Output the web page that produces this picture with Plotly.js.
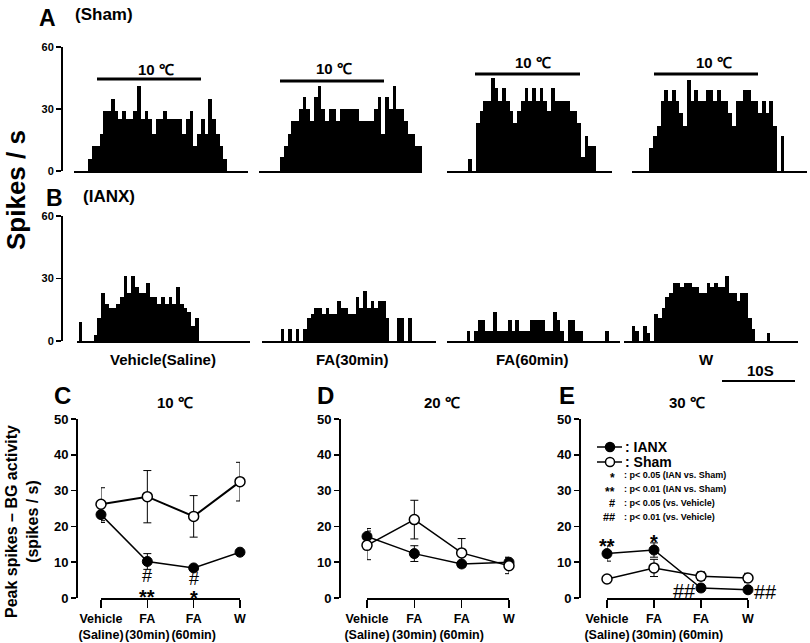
<!DOCTYPE html>
<html>
<head>
<meta charset="utf-8">
<script src="https://cdn.plot.ly/plotly-3.0.1.min.js"></script>
<style>body{margin:0;background:#fff}#chart{width:810px;height:643px}</style>
</head>
<body>
<div id="chart"></div>
<script>
// spikes / s per 0.5 s bin
// row A : sham
var shamVehicle = [6,12,12,18,29,29,35,29,25,29,25,25,29,41,25,29,25,18,25,25,29,25,25,25,25,18,25,29,12,18,25,18,35,25,18,12,6];
var shamFA30 = [7,12,18,24,24,30,36,30,24,36,41,30,24,30,30,24,30,30,30,30,30,24,24,24,24,30,36,18,36,30,41,30,30,24,18,18,12,12];
var shamFA60 = [6,0,23,29,34,34,45,40,34,40,34,29,23,29,34,40,34,40,34,40,34,29,40,34,34,34,34,29,29,23,7,17,12,12];
var shamW = [11,17,22,34,39,34,39,34,28,22,44,34,39,34,34,39,39,34,39,34,34,28,22,34,34,39,39,34,34,28,34,28,34,22,0,17];
// row B : IANX
var ianxVehicle = [9,0,0,0,3,11,23,18,16,16,18,21,31,23,31,26,23,23,28,21,21,18,21,18,21,18,26,18,16,14,7,11];
var ianxFA30 = [6,0,6,0,6,0,6,11,13,16,16,13,16,13,13,19,16,16,13,13,21,16,24,16,19,16,19,19,11,0,0,11,11,0,11];
var ianxFA60 = [5,0,5,10,10,5,5,14,5,5,5,10,5,10,5,5,5,10,10,10,10,5,5,14,10,5,0,10,10,5,5,0,0,0,0,0,0,5];
var ianxW = [7,5,0,7,4,0,13,11,16,21,23,28,28,26,28,28,26,26,23,23,28,26,28,26,26,31,23,23,19,23,23,11,6,0,0,0,4];

var histLabels = ['Vehicle(Saline)', 'FA(30min)', 'FA(60min)', 'W'];
var conditions = ['Vehicle<br>(Saline)', 'FA<br>(30min)', 'FA<br>(60min)', 'W'];

// peak spikes - BG activity (mean, s.e.m.)
var c10Ianx = [23.3, 10.2, 8.4, 12.8];
var c10IanxErr = [2.2, 2.2, 0.5, 0.5];
var c10Sham = [26.2, 28.3, 22.8, 32.5];
var c10ShamErr = [4.6, 7.3, 5.8, 5.4];
var c20Ianx = [17.2, 12.4, 9.5, 10.0];
var c20IanxErr = [2.2, 2.2, 0.6, 1.4];
var c20Sham = [14.7, 21.9, 12.6, 9.0];
var c20ShamErr = [4.0, 5.4, 4.0, 2.2];
var c30Ianx = [12.4, 13.4, 2.8, 2.3];
var c30IanxErr = [2.1, 2.0, 1.0, 0.6];
var c30Sham = [5.3, 8.4, 6.1, 5.6];
var c30ShamErr = [1.0, 2.4, 1.2, 1.3];

var W = 810, H = 643;
var FONT = 'Liberation Sans, Arial, sans-serif';
function px(v) { return v / W; }
function py(v) { return 1 - v / H; }

var data = [];
var layout = {
  width: W, height: H,
  margin: {l: 0, r: 0, t: 0, b: 0},
  paper_bgcolor: '#fff', plot_bgcolor: 'rgba(0,0,0,0)',
  bargap: 0,
  font: {family: FONT, color: '#000'},
  showlegend: false,
  annotations: [],
  shapes: []
};

// histograms
var histData = [shamVehicle, shamFA30, shamFA60, shamW, ianxVehicle, ianxFA30, ianxFA60, ianxW];
// axis left, axis right, left edge of first bar (px)
var histPos = [[74, 248, 88.3], [259, 422, 280], [447, 612, 468.3], [632, 807, 649.3],
               [77, 250, 78.7], [262, 436, 280.7], [447, 620, 466.7], [624, 798, 631.7]];
var binPx = 3.75;

var histY = {
  anchor: 'free', position: px(61), range: [0, 60], tickvals: [0, 30, 60],
  ticks: 'outside', ticklen: 5, tickwidth: 1.5, tickcolor: '#000',
  showline: true, linewidth: 1.5, linecolor: '#000', showgrid: false, zeroline: false,
  tickfont: {size: 11, weight: 'bold'}
};
layout.yaxis = Object.assign({domain: [py(171), py(47)]}, histY);
layout.yaxis2 = Object.assign({domain: [py(341), py(216)]}, histY);

histData.forEach(function (vals, k) {
  var n = k + 1;
  var suffix = n === 1 ? '' : String(n);
  var row = k < 4 ? 'y' : 'y2';
  var p = histPos[k];
  var lo = -0.5 - (p[2] - p[0]) / binPx;
  layout['xaxis' + suffix] = {
    domain: [px(p[0]), px(p[1])], range: [lo, lo + (p[1] - p[0]) / binPx], anchor: row,
    showline: true, linecolor: '#000', linewidth: 1.5, showticklabels: false, ticks: '',
    showgrid: false, zeroline: false
  };
  data.push({
    type: 'bar', x: vals.map(function (v, i) { return i; }), y: vals,
    xaxis: 'x' + suffix, yaxis: row, width: 1,
    marker: {color: '#000', line: {width: 0}}, hoverinfo: 'skip'
  });
});

// line charts C, D, E
var panels = [
  {ianx: c10Ianx, ianxErr: c10IanxErr, sham: c10Sham, shamErr: c10ShamErr, yPos: 76, x0: 101, x1: 240, shamW: 2},
  {ianx: c20Ianx, ianxErr: c20IanxErr, sham: c20Sham, shamErr: c20ShamErr, yPos: 339, x0: 367, x1: 509, shamW: 1.5},
  {ianx: c30Ianx, ianxErr: c30IanxErr, sham: c30Sham, shamErr: c30ShamErr, yPos: 579, x0: 607, x1: 748, shamW: 1.5}
];
panels.forEach(function (p, k) {
  var xn = 9 + k, yn = 3 + k;
  layout['yaxis' + yn] = {
    domain: [py(598), py(419)], anchor: 'free', position: px(p.yPos), range: [0, 50], dtick: 10,
    ticks: 'outside', ticklen: 5, tickwidth: 1.5, tickcolor: '#000',
    showline: true, linewidth: 1.5, linecolor: '#000', showgrid: false, zeroline: false,
    tickfont: {size: 13, weight: 'bold'}
  };
  layout['xaxis' + xn] = {
    domain: [px(p.x0), px(p.x1)], anchor: 'y' + yn, range: [0, 3],
    tickvals: [0, 1, 2, 3], ticktext: conditions, tickangle: 0,
    ticks: 'outside', ticklen: 8, tickwidth: 1.5, tickcolor: '#000',
    showline: true, linewidth: 1.5, linecolor: '#000', showgrid: false, zeroline: false,
    tickfont: {size: 12.5, weight: 'bold'}
  };
  var xs = [0, 1, 2, 3];
  data.push({
    type: 'scatter', mode: 'lines+markers', x: xs, y: p.ianx, name: 'IANX',
    xaxis: 'x' + xn, yaxis: 'y' + yn, cliponaxis: false,
    line: {color: '#000', width: 1.5},
    marker: {size: 10, color: '#000', line: {color: '#000', width: 1}},
    error_y: {type: 'data', array: p.ianxErr, visible: true, color: '#000', thickness: 1, width: 4}
  });
  data.push({
    type: 'scatter', mode: 'lines+markers', x: xs, y: p.sham, name: 'Sham',
    xaxis: 'x' + xn, yaxis: 'y' + yn, cliponaxis: false,
    line: {color: '#000', width: p.shamW},
    marker: {size: 10, color: '#fff', line: {color: '#000', width: 1.5}},
    error_y: {type: 'data', array: p.shamErr, visible: true, color: '#000', thickness: 1, width: 4}
  });
});

function note(x, y, text, size, extra) {
  var a = {xref: 'paper', yref: 'paper', x: px(x), y: py(y), text: text, showarrow: false,
    xanchor: 'center', yanchor: 'middle', font: {size: size, weight: 'bold', color: '#000'}};
  return Object.assign(a, extra || {});
}
function dataNote(xn, yn, x, y, text, size, weight) {
  return {xref: 'x' + xn, yref: 'y' + yn, x: x, y: y, text: text, showarrow: false,
    xanchor: 'center', yanchor: 'middle', font: {size: size, weight: weight, color: '#000'}};
}
var A = layout.annotations;
A.push(note(47, 18, 'A', 23));
A.push(note(104, 15, '(Sham)', 17));
A.push(note(54, 198, 'B', 23));
A.push(note(109, 197, '(IANX)', 17));
A.push(note(16, 190, 'Spikes / s', 26, {textangle: -90}));

// stimulus bars with label
var stim = [[97, 201, 79, 156, 70], [280, 384, 81, 334, 68], [475, 580, 74, 533, 63], [654, 758, 74, 714, 63]];
stim.forEach(function (s) {
  layout.shapes.push({type: 'line', xref: 'paper', yref: 'paper', x0: px(s[0]), x1: px(s[1]),
    y0: py(s[2]), y1: py(s[2]), line: {color: '#000', width: 3}});
  A.push(note(s[3], s[4], '10 ℃', 15));
});
var labX = [163, 352, 532, 706];
histLabels.forEach(function (t, i) { A.push(note(labX[i], 359, t, 15)); });
A.push(note(760, 370, '10S', 15));
layout.shapes.push({type: 'line', xref: 'paper', yref: 'paper', x0: px(722), x1: px(795),
  y0: py(381), y1: py(381), line: {color: '#000', width: 2}});

A.push(note(62, 396, 'C', 24));
A.push(note(325, 396, 'D', 24));
A.push(note(567, 396, 'E', 24));
A.push(note(175, 402, '10 ℃', 15));
A.push(note(442, 402, '20 ℃', 15));
A.push(note(687, 402, '30 ℃', 15));
A.push(note(22, 522, 'Peak spikes – BG activity<br>(spikes / s)', 16, {textangle: -90}));

// significance marks
A.push(dataNote(9, 3, 1, 6.2, '#', 18, 'normal'));
A.push(dataNote(9, 3, 1, 0.3, '**', 20, 'bold'));
A.push(dataNote(9, 3, 2, 5.4, '#', 18, 'normal'));
A.push(dataNote(9, 3, 2, 0.0, '*', 20, 'bold'));
A.push(dataNote(11, 5, 0, 14.6, '**', 20, 'bold'));
A.push(dataNote(11, 5, 1, 15.6, '*', 20, 'bold'));
A.push(note(684, 591, '##', 20, {font: {size: 20, weight: 'normal', color: '#000'}}));
A.push(note(765, 592, '##', 20, {font: {size: 20, weight: 'normal', color: '#000'}}));

// key: symbols for the two groups
var keyRows = [[447, ': IANX', '#000'], [462, ': Sham', '#fff']];
keyRows.forEach(function (r) {
  layout.shapes.push({type: 'line', xref: 'paper', yref: 'paper', x0: px(597), x1: px(622),
    y0: py(r[0]), y1: py(r[0]), line: {color: '#000', width: 1.5}});
  layout.shapes.push({type: 'circle', xref: 'paper', yref: 'paper', x0: px(605.5), x1: px(614.5),
    y0: py(r[0] + 4.5), y1: py(r[0] - 4.5), fillcolor: r[2], line: {color: '#000', width: 1.5}});
  A.push(note(623, r[0], r[1], 14, {xanchor: 'left'}));
});
// key for the marks
var keySym = ['*', '**', '#', '##'];
var keyTxt = [': p< 0.05 (IAN vs. Sham)', ': p< 0.01 (IAN vs. Sham)', ': p< 0.05 (vs. Vehicle)', ': p< 0.01 (vs. Vehicle)'];
var keyY = [475, 489, 503, 517];
keySym.forEach(function (s, i) {
  A.push(note(617, keyY[i] + (i < 2 ? 3 : 0), s, i < 2 ? 12 : 11, {xanchor: 'right'}));
  A.push(note(622, keyY[i], keyTxt[i], 9, {xanchor: 'left'}));
});

Plotly.newPlot('chart', data, layout, {staticPlot: true});
</script>
</body>
</html>
